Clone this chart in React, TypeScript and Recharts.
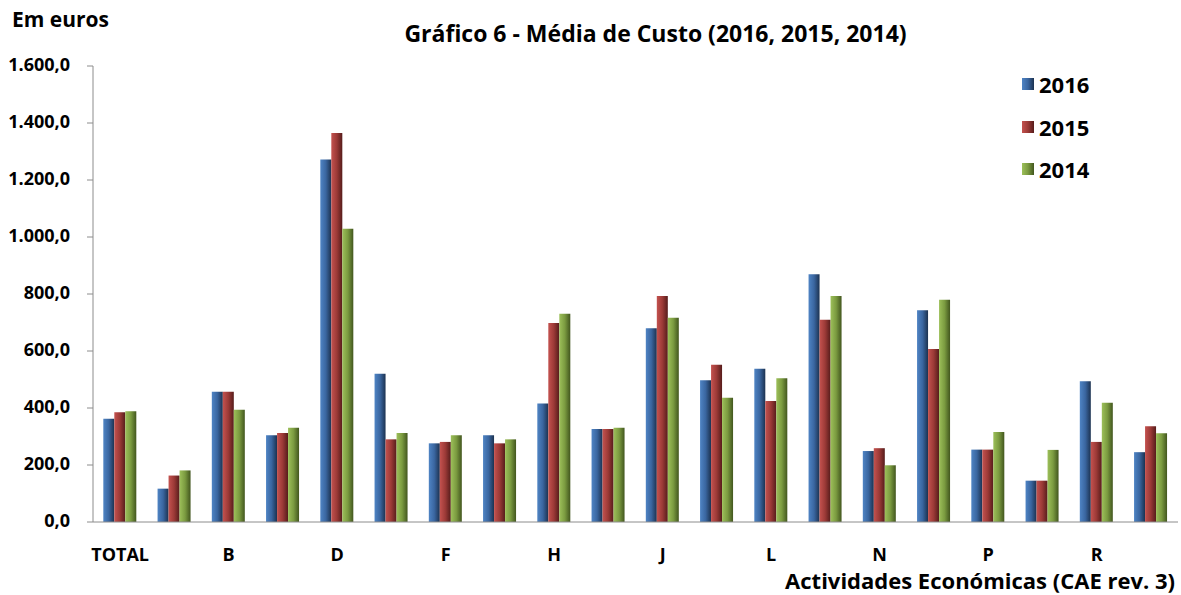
import React from "react";
import { Bar, BarChart, XAxis, YAxis } from "recharts";

const categories = ["TOTAL", "A", "B", "C", "D", "E", "F", "G", "H", "I", "J", "K", "L", "M", "N", "O", "P", "Q", "R", "S"];
const values2016 = [362, 117, 457, 304, 1272, 520, 276, 304, 416, 326, 680, 497, 538, 869, 249, 743, 254, 145, 494, 245];
const values2015 = [385, 163, 457, 312, 1365, 290, 281, 276, 698, 326, 793, 552, 425, 710, 259, 607, 254, 145, 281, 336];
const values2014 = [389, 181, 394, 331, 1029, 312, 304, 290, 731, 331, 717, 436, 504, 793, 199, 780, 316, 253, 418, 311];
const yTicks = [0, 200, 400, 600, 800, 1000, 1200, 1400, 1600];

const series = [
  { key: "y2016", name: "2016", light: "#4f84c4", mid: "#3a66a0", dark: "#1c3250" },
  { key: "y2015", name: "2015", light: "#c4524f", mid: "#9c3a37", dark: "#561c1b" },
  { key: "y2014", name: "2014", light: "#9dc05a", mid: "#7b9b40", dark: "#42561e" },
];

const data = categories.map((c, i) => ({
  cat: c,
  y2016: values2016[i],
  y2015: values2015[i],
  y2014: values2014[i],
}));

const font = "'Open Sans', 'DejaVu Sans', sans-serif";

const fmt = (v: number) => {
  const s = v.toFixed(1).replace(".", ",");
  const [int, dec] = s.split(",");
  return int.replace(/\B(?=(\d{3})+(?!\d))/g, ".") + "," + dec;
};

export default function App() {
  return (
    <div style={{ position: "absolute", left: 0, top: 0, width: 1181, height: 595, background: "#fff" }}>
      <div style={{ position: "absolute", left: 12, top: 5, fontFamily: font, fontWeight: 700, fontSize: 21 }}>Em euros</div>
      <div
        style={{ position: "absolute", left: 0, width: 1311, top: 17, textAlign: "center", fontFamily: font, fontWeight: 700, fontSize: 23 }}
      >
        Gráfico 6 - Média de Custo (2016, 2015, 2014)
      </div>
      <div
        style={{ position: "absolute", right: 6, top: 568, lineHeight: "24px", fontFamily: font, fontWeight: 700, fontSize: 22 }}
      >
        Actividades Económicas (CAE rev. 3)
      </div>
      <div style={{ position: "absolute", left: 1022, top: 63, fontFamily: font, fontWeight: 700, fontSize: 22, color: "#000" }}>
        {series.map((s) => (
          <div key={s.key} style={{ display: "flex", alignItems: "center", height: 42.5 }}>
            <span
              style={{
                display: "inline-block",
                width: 12,
                height: 12,
                marginRight: 5,
                background: `linear-gradient(90deg, ${s.light}, ${s.mid}, ${s.dark})`,
              }}
            />
            {s.name}
          </div>
        ))}
      </div>
      <BarChart
        width={1181}
        height={595}
        data={data}
        margin={{ top: 66, right: 3, left: 0, bottom: 0 }}
        barCategoryGap="19%"
        barGap={0}
        style={{ position: "absolute", left: 0, top: 0 }}
      >
        <defs>
          {series.map((s) => (
            <linearGradient key={s.key} id={`g-${s.key}`} x1="0" y1="0" x2="1" y2="0">
              <stop offset="0%" stopColor={s.light} />
              <stop offset="50%" stopColor={s.mid} />
              <stop offset="100%" stopColor={s.dark} />
            </linearGradient>
          ))}
        </defs>
        <XAxis
          dataKey="cat"
          interval={1}
          height={73}
          tickLine={false}
          axisLine={{ stroke: "#8c8c8c" }}
          tick={({ x, y, payload }: any) => (
            <text x={x} y={y + 26} textAnchor="middle" dominantBaseline="middle" fontFamily={font} fontWeight={700} fontSize={18} fill="#000">
              {payload.value}
            </text>
          )}
        />
        <YAxis
          domain={[0, 1600]}
          ticks={yTicks}
          width={93}
          axisLine={{ stroke: "#8c8c8c" }}
          tickLine={{ stroke: "#8c8c8c" }}
          tickSize={6}
          tick={({ x, y, payload }: any) => (
            <text x={x - 15} y={y} textAnchor="end" dominantBaseline="middle" fontFamily={font} fontWeight={700} fontSize={18} fill="#000">
              {fmt(payload.value)}
            </text>
          )}
        />
        {series.map((s) => (
          <Bar key={s.key} dataKey={s.key} name={s.name} fill={`url(#g-${s.key})`} isAnimationActive={false} />
        ))}
      </BarChart>
    </div>
  );
}
